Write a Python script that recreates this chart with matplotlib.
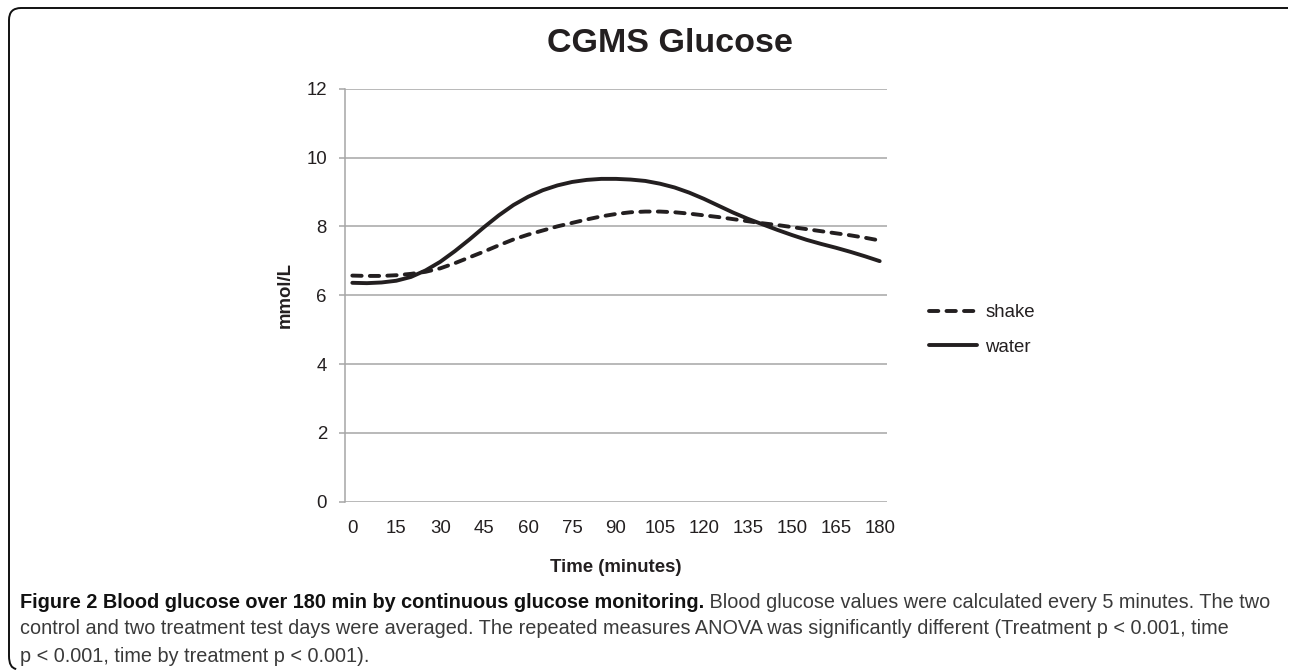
import numpy as np
import matplotlib.pyplot as plt
from matplotlib.path import Path
from matplotlib.patches import PathPatch

plt.rcParams["font.family"] = ["Liberation Sans", "DejaVu Sans"]

# glucose every 5 minutes
minutes = list(range(0, 185, 5))
shake = [6.57, 6.56, 6.56, 6.58, 6.62, 6.68, 6.78, 6.93, 7.10, 7.27,
         7.45, 7.62, 7.76, 7.88, 8.00, 8.10, 8.20, 8.29, 8.36, 8.41,
         8.43, 8.43, 8.41, 8.37, 8.32, 8.27, 8.21, 8.15, 8.09, 8.04,
         7.98, 7.92, 7.86, 7.80, 7.74, 7.67, 7.59]
water = [6.36, 6.35, 6.37, 6.42, 6.53, 6.72, 6.97, 7.28, 7.62, 7.98,
         8.32, 8.62, 8.86, 9.05, 9.19, 9.29, 9.35, 9.38, 9.38, 9.36,
         9.32, 9.24, 9.13, 8.98, 8.80, 8.60, 8.40, 8.22, 8.06, 7.90,
         7.75, 7.61, 7.49, 7.38, 7.26, 7.13, 6.99]
xticks = list(range(0, 181, 15))
yticks = [0, 2, 4, 6, 8, 10, 12]

title = "CGMS Glucose"
caption_bold = "Figure 2 Blood glucose over 180 min by continuous glucose monitoring."
caption_lines = [
    " Blood glucose values were calculated every 5 minutes. The two",
    "control and two treatment test days were averaged. The repeated measures ANOVA was significantly different (Treatment p < 0.001, time",
    "p < 0.001, time by treatment p < 0.001).",
]

W, H = 1290, 670
fig = plt.figure(figsize=(W / 100, H / 100), dpi=100)


def fx(px):
    return px / W


def fy(py):
    return 1 - py / H


ax = fig.add_axes([fx(345), fy(501.7), fx(887) - fx(345), fy(88.7) - fy(501.7)])
ink = "#231f20"
grid = "#a6a6a6"
fs = 13.4

ax.plot(minutes, shake, color=ink, lw=2.8, dashes=(2.4, 2.1),
        dash_capstyle="round", label="shake")
ax.plot(minutes, water, color=ink, lw=2.8, solid_capstyle="round", label="water")

ax.set_xlim(-2.5, 182.5)
ax.set_ylim(0, 12)
ax.set_xticks(xticks)
ax.set_yticks(yticks)
ax.yaxis.grid(True, color=grid, lw=1.1)
ax.set_axisbelow(True)
for s in ["top", "right", "bottom"]:
    ax.spines[s].set_visible(False)
ax.spines["left"].set_color(grid)
ax.spines["left"].set_linewidth(1.1)
ax.tick_params(axis="x", length=0, pad=13, labelsize=fs, labelcolor=ink)
ax.tick_params(axis="y", length=4, width=1.1, color=grid, pad=9, labelsize=fs,
               labelcolor=ink)

ax.set_xlabel("Time (minutes)", fontsize=fs, fontweight="bold", color=ink,
              labelpad=16)
ax.set_ylabel("mmol/L", fontsize=fs, fontweight="bold", color=ink, labelpad=9)

fig.text(fx(670), fy(43), title, fontsize=24.5, fontweight="bold", color=ink,
         ha="center", va="center")

ax.legend(loc="center left", bbox_to_anchor=(fx(912), fy(330)),
          bbox_transform=fig.transFigure, frameon=False, fontsize=fs,
          handlelength=2.6, handletextpad=0.45, labelspacing=0.95,
          labelcolor=ink)

# caption below the chart
cap_font = ["Liberation Sans"]
cap_size = 14.3
t0 = fig.text(fx(20), fy(602), caption_bold, fontsize=cap_size, fontweight="bold",
              family=cap_font, color="#111111", va="center", ha="left")
fig.canvas.draw()
bb = t0.get_window_extent()
fig.text(bb.x1 / W, fy(602), caption_lines[0], fontsize=cap_size, family=cap_font,
         color="#3a3a3a", va="center", ha="left")
fig.text(fx(20), fy(629), caption_lines[1], fontsize=cap_size, family=cap_font,
         color="#3a3a3a", va="center", ha="left")
fig.text(fx(20), fy(656), caption_lines[2], fontsize=cap_size, family=cap_font,
         color="#3a3a3a", va="center", ha="left")

# open rounded frame: top edge and left edge only
r = 12
verts = [(fx(1288), fy(8)), (fx(9 + r), fy(8)), (fx(9), fy(8)), (fx(9), fy(8 + r)),
         (fx(9), fy(668 - r)), (fx(9), fy(668)), (fx(9 + r * 0.6), fy(669))]
codes = [Path.MOVETO, Path.LINETO, Path.CURVE3, Path.CURVE3,
         Path.LINETO, Path.CURVE3, Path.CURVE3]
fig.patches.append(PathPatch(Path(verts, codes), transform=fig.transFigure,
                             fill=False, ec="#111111", lw=1.4))

fig.savefig("out.png", dpi=100)
